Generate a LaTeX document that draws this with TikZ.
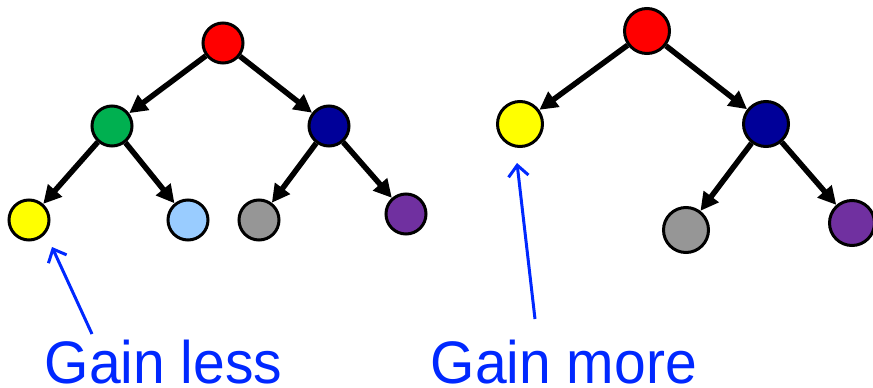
\documentclass[tikz,border=0pt]{standalone}
\usepackage{fontspec}
\setmainfont{Liberation Sans}
\usetikzlibrary{arrows.meta}
\definecolor{cred}{RGB}{255,0,0}
\definecolor{cgreen}{RGB}{0,176,80}
\definecolor{cnavy}{RGB}{0,0,153}
\definecolor{cyellow}{RGB}{255,255,0}
\definecolor{clblue}{RGB}{153,204,255}
\definecolor{cgray}{RGB}{150,150,150}
\definecolor{cpurple}{RGB}{112,48,160}
\definecolor{cblue}{RGB}{0,40,255}
\begin{document}
\begin{tikzpicture}[x=1pt,y=-1pt,
  nd/.style={circle,draw=black,line width=3pt,inner sep=0pt,minimum size=40pt},
  ndb/.style={nd,minimum size=45pt},
  edge/.style={line width=5.5pt,-{Triangle[length=18pt,width=18pt]}},
  callout/.style={draw=cblue,line width=3pt,-{Straight Barb[length=11pt,width=20pt]}},
  lbl/.style={text=cblue,inner sep=0pt,text depth=0pt,font=\fontsize{60}{60}\selectfont}]
\useasboundingbox (0,0) rectangle (873,388);
% left tree
\node[nd,fill=cred]    (r1) at (223,43) {};
\node[nd,fill=cgreen]  (g1) at (112,126) {};
\node[nd,fill=cnavy]   (n1) at (329,126) {};
\node[nd,fill=cyellow] (y1) at (29,220) {};
\node[nd,fill=clblue]  (b1) at (188,220) {};
\node[nd,fill=cgray]   (h1) at (259,220) {};
\node[nd,fill=cpurple] (p1) at (406,214) {};
\draw[edge] (r1) -- (g1);
\draw[edge] (r1) -- (n1);
\draw[edge] (g1) -- (y1);
\draw[edge] (g1) -- (b1);
\draw[edge] (n1) -- (h1);
\draw[edge] (n1) -- (p1);
% right tree
\node[ndb,fill=cred]    (r2) at (647,31) {};
\node[ndb,fill=cyellow] (y2) at (520,124) {};
\node[ndb,fill=cnavy]   (n2) at (766,124) {};
\node[ndb,fill=cgray]   (h2) at (686,230) {};
\node[ndb,fill=cpurple] (p2) at (852,223) {};
\draw[edge] (r2) -- (y2);
\draw[edge] (r2) -- (n2);
\draw[edge] (n2) -- (h2);
\draw[edge] (n2) -- (p2);
% labels
\node[lbl,anchor=base west] (gl) at (44.5,383) {\scalebox{0.95}[1]{Gain less}};
\node[lbl,anchor=base west] (gm) at (430.5,383) {\scalebox{0.95}[1]{Gain more}};
\coordinate (tailL) at (92,334);
\coordinate (tipL) at (52,247);
\coordinate (tailR) at (535,319);
\coordinate (tipR) at (517,163);
\draw[callout] (tailL) -- (tipL);
\draw[callout] (tailR) -- (tipR);
\end{tikzpicture}
\end{document}
